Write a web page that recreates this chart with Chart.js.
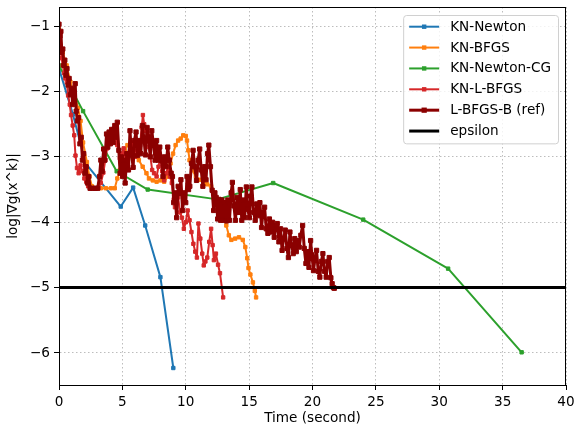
<!DOCTYPE html>
<html>
<head>
<meta charset="utf-8">
<script src="https://cdn.jsdelivr.net/npm/chart.js@4/dist/chart.umd.min.js"></script>
<style>
  body { margin: 0; background: #fff; }
  canvas { display: block; }
</style>
</head>
<body>
<canvas id="my-chart" width="575" height="427"></canvas>
<script>
// ---- data (time in seconds, log10 of gradient norm) ----
const newtonTime = [0, 1.1, 2.1, 4.87, 5.85, 6.8, 8.0, 9.02];
const newtonLog = [-1.65, -2.35, -3.1, -3.76, -3.47, -4.05, -4.84, -6.23];

const bfgsTime = [0, 0.3, 0.6, 0.9, 1.2, 1.5, 1.7, 1.9, 2.2, 2.4, 2.6, 2.9, 3.3, 3.7, 4.1, 4.4,
  4.6, 4.8, 5.0, 5.2, 5.4, 5.7, 6.0, 6.3, 6.6, 6.9, 7.1, 7.4, 7.7, 8.0, 8.3, 8.6, 8.8, 9.0,
  9.2, 9.4, 9.6, 9.8, 10.0, 10.1, 10.2, 10.3, 10.5, 10.8, 11.1, 11.4, 11.7, 12.0, 12.2, 12.5,
  12.8, 13.0, 13.2, 13.4, 13.6, 13.9, 14.2, 14.5, 14.7, 14.85, 14.95, 15.1, 15.3, 15.45, 15.55];
const bfgsLog = [-1.05, -1.4, -1.6, -1.85, -2.05, -2.25, -2.45, -2.78, -3.08, -3.3, -3.45, -3.48,
  -3.48, -3.48, -3.48, -3.48, -3.33, -3.2, -3.05, -2.9, -2.82, -2.82, -2.98, -3.05, -3.15, -3.25,
  -3.33, -3.36, -3.38, -3.36, -3.38, -3.3, -3.1, -2.95, -2.82, -2.75, -2.72, -2.67, -2.68, -2.75,
  -2.9, -3.05, -3.2, -3.3, -3.35, -3.38, -3.42, -3.45, -3.55, -3.65, -3.8, -3.9, -4.05, -4.2,
  -4.27, -4.25, -4.23, -4.27, -4.38, -4.55, -4.7, -4.8, -4.92, -5.05, -5.15];

const newtonCgTime = [0, 1.9, 4.55, 7.0, 12.5, 16.9, 24.0, 30.7, 36.5];
const newtonCgLog = [-1.6, -2.3, -3.22, -3.5, -3.65, -3.4, -3.96, -4.71, -5.99];

const lbfgsTime = [0, 0.1, 0.2, 0.3, 0.4, 0.5, 0.62, 0.72, 0.85, 0.95, 1.08, 1.2, 1.3, 1.42, 1.55,
  1.7, 1.85, 2.0, 2.15, 2.3, 2.5, 2.7, 2.9, 3.1, 3.3, 3.5, 3.65, 3.8, 3.95, 4.05, 4.2, 4.3, 4.45,
  4.6, 4.8, 4.95, 5.1, 5.25, 5.4, 5.6, 5.8, 5.9, 6.0, 6.2, 6.4, 6.52, 6.62, 6.72, 6.82, 7.0, 7.1,
  7.2, 7.35, 7.5, 7.7, 7.85, 8.0, 8.15, 8.3, 8.45, 8.6, 8.75, 8.9, 9.05, 9.15, 9.28, 9.4, 9.55,
  9.7, 9.85, 10.0, 10.15, 10.3, 10.45, 10.6, 10.75, 10.88, 11.0, 11.15, 11.3, 11.42, 11.55, 11.7,
  11.85, 12.0, 12.12, 12.22, 12.38, 12.55, 12.7, 12.95];
const lbfgsLog = [-1.14, -1.3, -1.49, -1.6, -1.72, -1.8, -1.86, -2.06, -2.2, -2.36, -2.52, -2.67,
  -2.98, -3.17, -3.25, -3.13, -3.22, -3.33, -3.38, -3.45, -3.48, -3.48, -3.48, -3.48, -3.4, -3.24,
  -3.05, -2.87, -2.75, -2.67, -2.62, -2.57, -2.7, -2.82, -3.02, -2.95, -2.87, -2.98, -3.08, -2.92,
  -2.78, -2.9, -3.0, -2.92, -2.82, -2.55, -2.36, -2.5, -2.6, -2.67, -2.85, -2.98, -3.2, -3.25,
  -3.3, -3.15, -3.0, -3.22, -3.36, -3.25, -3.16, -3.3, -3.4, -3.65, -3.77, -3.65, -3.62, -3.85,
  -3.93, -4.1, -4.0, -3.82, -3.97, -4.15, -4.33, -4.45, -4.54, -4.02, -4.25, -4.48, -4.66, -4.6,
  -4.54, -4.3, -4.1, -4.35, -4.58, -4.48, -4.65, -4.78, -5.15];

const refTime = [0, 0.08, 0.15, 0.22, 0.3, 0.38, 0.46, 0.55, 0.63, 0.72, 0.8, 0.9, 0.98, 1.08,
  1.18, 1.28, 1.36, 1.45, 1.55, 1.65, 1.75, 1.85, 1.95, 2.05, 2.15, 2.25, 2.35, 2.45, 2.65, 2.85,
  3.05, 3.2, 3.3, 3.4, 3.52, 3.62, 3.75, 3.85, 3.95, 4.05, 4.15, 4.28, 4.4, 4.5, 4.6, 4.72, 4.82,
  4.92, 5.02, 5.12, 5.22, 5.35, 5.48, 5.6, 5.72, 5.85, 5.95, 6.08, 6.2, 6.32, 6.45, 6.58, 6.7,
  6.82, 6.95, 7.08, 7.2, 7.32, 7.45, 7.58, 7.7, 7.82, 7.95, 8.08, 8.2, 8.32, 8.45, 8.58, 8.7,
  8.85, 8.95, 9.05, 9.15, 9.28, 9.4, 9.5, 9.62, 9.75, 9.88, 10.0, 10.1, 10.22, 10.32, 10.45,
  10.58, 10.7, 10.85, 10.98, 11.1, 11.22, 11.35, 11.48, 11.6, 11.72, 11.82, 11.95, 12.08, 12.2,
  12.3, 12.4, 12.52, 12.62, 12.75, 12.85, 12.98, 13.1, 13.22, 13.32, 13.45, 13.58, 13.68, 13.8,
  13.92, 14.05, 14.18, 14.3, 14.42, 14.55, 14.65, 14.78, 14.9, 15.02, 15.12, 15.22, 15.35, 15.48,
  15.6, 15.72, 15.85, 15.98, 16.1, 16.22, 16.35, 16.48, 16.6, 16.72, 16.85, 16.98, 17.1, 17.22,
  17.35, 17.48, 17.6, 17.72, 17.85, 17.98, 18.1, 18.22, 18.35, 18.48, 18.6, 18.72, 18.82, 18.95,
  19.08, 19.22, 19.35, 19.48, 19.6, 19.72, 19.85, 19.95, 20.08, 20.2, 20.32, 20.45, 20.58, 20.7,
  20.82, 20.95, 21.08, 21.2, 21.32, 21.45, 21.55, 21.65, 21.72];
const refLog = [-0.97, -1.15, -1.08, -1.4, -1.35, -1.6, -1.52, -1.75, -1.65, -1.9, -1.8, -2.05,
  -1.95, -2.2, -2.1, -1.88, -2.3, -2.45, -2.4, -2.8, -2.7, -3.05, -2.95, -3.25, -3.15, -3.4, -3.3,
  -3.48, -3.48, -3.48, -3.48, -3.3, -3.05, -3.22, -2.88, -3.05, -2.65, -2.85, -2.62, -2.8, -2.58,
  -2.78, -2.52, -2.7, -2.47, -2.9, -3.25, -3.0, -3.3, -3.05, -3.4, -2.95, -3.2, -2.6, -2.95,
  -3.16, -2.75, -2.62, -2.98, -2.75, -2.95, -2.52, -2.72, -2.97, -2.55, -2.7, -3.0, -2.6, -2.8,
  -3.05, -2.75, -3.05, -2.85, -3.05, -3.3, -3.0, -3.15, -2.85, -3.05, -3.25, -3.3, -3.7, -3.55,
  -3.93, -3.45, -3.56, -3.35, -3.82, -3.55, -3.7, -3.3, -3.5, -3.45, -3.1, -2.9, -3.15, -3.36,
  -3.05, -2.88, -3.2, -3.45, -3.15, -3.35, -2.95, -2.82, -3.15, -3.51, -3.82, -3.55, -3.62,
  -3.95, -3.65, -3.97, -3.66, -3.97, -3.7, -3.98, -3.66, -3.97, -3.55, -3.39, -3.75, -3.97,
  -3.62, -3.85, -3.5, -3.97, -3.66, -3.93, -3.46, -3.8, -3.93, -3.6, -3.46, -3.85, -3.97, -3.72,
  -3.9, -3.7, -4.08, -3.85, -3.77, -4.1, -4.17, -3.95, -4.15, -4.0, -4.23, -4.05, -4.02, -4.3,
  -4.1, -4.43, -4.25, -4.12, -4.4, -4.54, -4.15, -4.35, -4.48, -4.25, -4.45, -4.28, -4.38, -4.2,
  -4.05, -4.4, -4.63, -4.45, -4.69, -4.28, -4.5, -4.74, -4.55, -4.43, -4.75, -4.84, -4.6, -4.48,
  -4.75, -4.84, -4.6, -4.54, -4.85, -4.94, -5.0, -5.01];

const epsTime = [0, 40];
const epsLog = [-5, -5];

const xTicks = [0, 5, 10, 15, 20, 25, 30, 35, 40];
const yTicks = [-6, -5, -4, -3, -2, -1];

const toPoints = (t, v) => t.map((x, i) => ({ x, y: v[i] }));
const minus = (v) => (v < 0 ? '\u2212' + Math.abs(v) : String(v));
const FONT = '"DejaVu Sans", "Liberation Sans", sans-serif';
const FONT_SIZE = 13.6;

const lineSet = (label, t, v, color, width, radius, order) => ({
  label,
  data: toPoints(t, v),
  borderColor: color,
  backgroundColor: color,
  borderWidth: width,
  borderJoinStyle: 'round',
  borderCapStyle: 'round',
  pointStyle: 'rect',
  pointRadius: radius,
  pointBorderWidth: radius ? 1 : 0,
  pointBackgroundColor: color,
  pointBorderColor: color,
  tension: 0,
  order,
});

// spines on all four sides, like the matplotlib frame
const frame = {
  id: 'frame',
  afterDatasetsDraw(chart) {
    const { ctx, chartArea: a } = chart;
    ctx.save();
    ctx.strokeStyle = '#000';
    ctx.lineWidth = 1;
    ctx.strokeRect(a.left + 0.5, a.top + 0.5, a.right - a.left - 1, a.bottom - a.top);
    ctx.restore();
  },
};

// legend drawn inside the plot, upper right, line + marker handles
const legendInside = {
  id: 'legendInside',
  afterDraw(chart) {
    const { ctx, chartArea: a } = chart;
    const sets = chart.data.datasets;
    ctx.save();
    ctx.font = FONT_SIZE + 'px ' + FONT;
    const textW = Math.max(...sets.map((d) => ctx.measureText(d.label).width));
    const rowH = 20.87;
    const w = 47 + textW + 7;
    const h = rowH * (sets.length - 1) + 24;
    const x0 = a.right - 8 - w;
    const y0 = a.top + 8;
    ctx.beginPath();
    ctx.roundRect(x0 + 0.5, y0 + 0.5, w, h, 3);
    ctx.fillStyle = 'rgba(255,255,255,0.8)';
    ctx.fill();
    ctx.strokeStyle = '#d0d0d0';
    ctx.lineWidth = 1;
    ctx.stroke();
    sets.forEach((d, i) => {
      const cy = y0 + 11.7 + i * rowH;
      ctx.strokeStyle = d.borderColor;
      ctx.lineWidth = d.borderWidth;
      ctx.beginPath();
      ctx.moveTo(x0 + 6, cy);
      ctx.lineTo(x0 + 36, cy);
      ctx.stroke();
      if (d.pointRadius) {
        const s = d.pointRadius * Math.SQRT1_2 + 0.5;
        ctx.fillStyle = d.borderColor;
        ctx.fillRect(x0 + 21 - s, cy - s, 2 * s, 2 * s);
      }
      ctx.fillStyle = '#000';
      ctx.textBaseline = 'middle';
      ctx.textAlign = 'left';
      ctx.fillText(d.label, x0 + 47, cy + 0.5);
    });
    ctx.restore();
  },
};

const chart1 = document.getElementById('my-chart').getContext('2d');

const myChart = new Chart(chart1, {
  type: 'line',
  data: {
    datasets: [
      lineSet('KN-Newton', newtonTime, newtonLog, '#1f77b4', 2, 2.4, 5),
      lineSet('KN-BFGS', bfgsTime, bfgsLog, '#ff7f0e', 2, 2.4, 4),
      lineSet('KN-Newton-CG', newtonCgTime, newtonCgLog, '#2ca02c', 2, 2.4, 3),
      lineSet('KN-L-BFGS', lbfgsTime, lbfgsLog, '#d62728', 2, 2.4, 2),
      lineSet('L-BFGS-B (ref)', refTime, refLog, '#8b0000', 3, 3, 1),
      lineSet('epsilon', epsTime, epsLog, '#000000', 3, 0, 0),
    ],
  },
  options: {
    responsive: false,
    animation: false,
    events: [],
    layout: { padding: { top: 7, right: 9, left: 0, bottom: 0 } },
    scales: {
      x: {
        type: 'linear',
        min: 0,
        max: 40,
        afterBuildTicks: (s) => { s.ticks = xTicks.map((value) => ({ value })); },
        afterFit: (s) => { s.height = 42; s.paddingLeft = 0; s.paddingRight = 0; },
        ticks: { color: '#000', font: { family: FONT, size: FONT_SIZE }, padding: 4, maxRotation: 0 },
        grid: { color: '#bdbdbd', lineWidth: 1, tickLength: 5, tickColor: '#000', tickBorderDash: [] },
        border: { display: true, color: '#000', dash: [1.5, 2.5] },
        title: {
          display: true,
          text: 'Time (second)',
          color: '#000',
          font: { family: FONT, size: FONT_SIZE },
          padding: { top: 0, bottom: 0 },
        },
      },
      y: {
        type: 'linear',
        min: -6.49,
        max: -0.707,
        afterBuildTicks: (s) => { s.ticks = yTicks.map((value) => ({ value })); },
        afterFit: (s) => { s.width = 59; s.paddingTop = 0; s.paddingBottom = 0; },
        ticks: { color: '#000', font: { family: FONT, size: FONT_SIZE }, padding: 4, callback: minus },
        grid: { color: '#bdbdbd', lineWidth: 1, tickLength: 5, tickColor: '#000', tickBorderDash: [] },
        border: { display: true, color: '#000', dash: [1.5, 2.5] },
        title: {
          display: true,
          text: 'log|\u2207g(x^k)|',
          color: '#000',
          font: { family: FONT, size: FONT_SIZE },
          padding: { top: 5, bottom: 0 },
        },
      },
    },
    plugins: {
      legend: { display: false },
      tooltip: { enabled: false },
    },
  },
  plugins: [frame, legendInside],
});
</script>
</body>
</html>
